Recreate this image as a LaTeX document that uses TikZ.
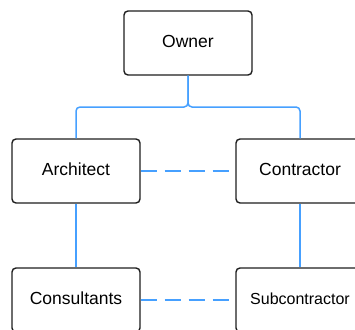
\documentclass[tikz,border=0pt]{standalone}
\usepackage{fontspec}
\setmainfont{Liberation Sans}
\definecolor{linkblue}{RGB}{70,160,255}
\definecolor{boxedge}{RGB}{30,30,30}
\begin{document}
\begin{tikzpicture}[x=1pt,y=-1pt,
  role/.style={draw=boxedge,line width=1.4pt,rounded corners=4pt,fill=white,
    minimum width=128pt,minimum height=64pt,inner sep=0pt,
    text height=13pt,text depth=4pt,
    font=\fontsize{17.5}{20}\selectfont},
  tie/.style={draw=linkblue,line width=1.5pt},
  peer/.style={tie,dash pattern=on 16pt off 8pt}]
\useasboundingbox (0,0) rectangle (355,329);
\clip (0,0) rectangle (355,329);
\node[role] (owner) at (188,43) {Owner};
\node[role] (arch) at (76,171) {Architect};
\node[role] (contr) at (300,171) {Contractor};
\node[role] (cons) at (76,300) {Consultants};
\node[role,text depth=5pt,font=\fontsize{16}{19}\selectfont] (sub) at (300,300) {Subcontractor};
\coordinate (j) at (188,107);
\draw[tie,rounded corners=4pt] (owner.south) -- (j) -- (j -| arch.north) -- (arch.north);
\draw[tie,rounded corners=4pt] (owner.south) -- (j) -- (j -| contr.north) -- (contr.north);
\draw[tie] (arch.south) -- (cons.north);
\draw[tie] (contr.south) -- (sub.north);
\draw[peer] (arch.east) -- (contr.west);
\draw[peer] (cons.east) -- (sub.west);
\end{tikzpicture}
\end{document}
